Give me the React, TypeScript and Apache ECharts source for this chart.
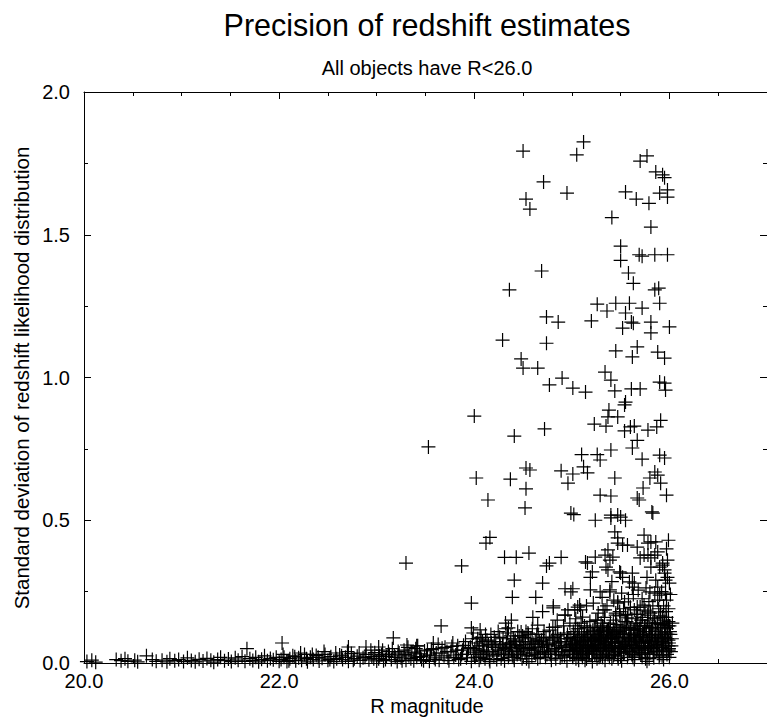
import React, { useEffect, useRef } from "react";
import * as echarts from "echarts";

const FONT = "'Liberation Sans', Arial, Helvetica, sans-serif";

const TITLE = "Precision of redshift estimates";
const SUBTITLE = "All objects have R<26.0";
const X_NAME = "R magnitude";
const Y_NAME = "Standard deviation of redshift likelihood distribution";

const X_MAJOR_TICKS = [20, 22, 24, 26];
const Y_MAJOR_TICKS = [0, 0.5, 1.0, 1.5, 2.0];

// scattered points with large deviation (y > 0.5)
const sparseHigh: number[][] = [
  [23.53, 0.757], [24.5, 1.793], [25.12, 1.825], [25.05, 1.78], [25.77, 1.776], [25.7, 1.758],
  [25.86, 1.72], [25.93, 1.71], [25.95, 1.7], [25.98, 1.657], [25.9, 1.646], [25.98, 1.632],
  [24.71, 1.685], [24.95, 1.646], [24.53, 1.625], [24.57, 1.59], [25.55, 1.65], [25.66, 1.625],
  [25.79, 1.61], [25.41, 1.56], [25.81, 1.527], [25.5, 1.46], [25.5, 1.41], [25.69, 1.43],
  [25.72, 1.425], [25.85, 1.43], [25.98, 1.43], [24.69, 1.373], [24.36, 1.307], [25.58, 1.366],
  [25.63, 1.33], [25.85, 1.307], [25.89, 1.313], [25.26, 1.257], [25.36, 1.233], [25.45, 1.26],
  [25.59, 1.26], [25.55, 1.226], [25.72, 1.243], [25.9, 1.26], [24.74, 1.212], [24.86, 1.194],
  [25.2, 1.198], [25.61, 1.194], [25.81, 1.194], [26.0, 1.177], [25.52, 1.173], [25.63, 1.19],
  [25.81, 1.156], [24.29, 1.131], [24.74, 1.12], [25.45, 1.093], [25.67, 1.107], [25.62, 1.072],
  [25.88, 1.089], [25.95, 1.068], [24.48, 1.065], [24.5, 1.033], [24.65, 1.033], [25.34, 1.019],
  [25.4, 0.991], [24.9, 0.998], [24.77, 0.974], [25.01, 0.963], [25.14, 0.949], [25.44, 0.953],
  [25.61, 0.96], [25.7, 0.96], [25.9, 0.984], [25.95, 0.98], [25.96, 0.956], [24.0, 0.865],
  [25.54, 0.904], [25.55, 0.914], [25.38, 0.886], [25.47, 0.862], [25.37, 0.862], [25.23, 0.837],
  [25.35, 0.83], [24.72, 0.82], [24.41, 0.795], [25.6, 0.827], [25.64, 0.83], [25.54, 0.813],
  [25.78, 0.816], [25.87, 0.827], [25.91, 0.85], [25.67, 0.78], [25.62, 0.753], [25.4, 0.746],
  [25.1, 0.73], [25.26, 0.73], [25.29, 0.711], [25.72, 0.714], [25.9, 0.728], [25.95, 0.718],
  [25.12, 0.687], [25.16, 0.666], [24.53, 0.683], [24.57, 0.676], [24.89, 0.673], [25.01, 0.662],
  [24.96, 0.63], [24.02, 0.648], [24.37, 0.644], [24.53, 0.61], [25.44, 0.648], [25.85, 0.669],
  [25.88, 0.658], [25.8, 0.648], [25.91, 0.63], [25.73, 0.613], [24.14, 0.571], [24.52, 0.543],
  [25.29, 0.588], [25.4, 0.585], [25.67, 0.578], [25.69, 0.571], [25.97, 0.588], [25.82, 0.529],
  [24.99, 0.525], [25.02, 0.52], [25.4, 0.518], [25.5, 0.511],
];

// intermediate points (0.05 < y < 0.5)
const sparseMid: number[][] = [
  [23.3, 0.35], [23.87, 0.34], [23.97, 0.21], [23.66, 0.13], [23.17, 0.088], [24.12, 0.42],
  [24.16, 0.44], [24.31, 0.37], [24.43, 0.37], [24.56, 0.385], [24.41, 0.29], [24.39, 0.23],
  [24.63, 0.23], [24.7, 0.28], [24.74, 0.34], [24.77, 0.35], [24.89, 0.37], [24.93, 0.26],
  [25.01, 0.26], [24.81, 0.2], [23.97, 0.123], [24.06, 0.116], [23.99, 0.105], [24.32, 0.14],
  [24.38, 0.15], [24.35, 0.123], [24.48, 0.109], [24.55, 0.105], [24.65, 0.133], [24.83, 0.126],
  [24.93, 0.168], [25.03, 0.186], [25.08, 0.203], [25.11, 0.161], [25.19, 0.256], [25.34, 0.186],
  [25.39, 0.256], [25.47, 0.21], [25.45, 0.175], [25.55, 0.168], [25.64, 0.186], [25.7, 0.196],
  [25.78, 0.168], [25.88, 0.22], [25.93, 0.161], [25.95, 0.133], [25.14, 0.354], [25.21, 0.319],
  [25.19, 0.3], [25.37, 0.396], [25.42, 0.371], [25.35, 0.336], [25.5, 0.315], [25.59, 0.284],
  [25.62, 0.266], [25.76, 0.263], [25.8, 0.249], [25.85, 0.245], [25.9, 0.238], [25.95, 0.315],
  [25.96, 0.29], [25.93, 0.343], [25.9, 0.336], [25.81, 0.336], [25.7, 0.368], [25.78, 0.378],
  [25.85, 0.378], [25.44, 0.459], [25.47, 0.438], [25.52, 0.413], [25.74, 0.448], [25.81, 0.424],
  [25.86, 0.424], [25.88, 0.389], [25.24, 0.5], [25.4, 0.508], [25.47, 0.518], [25.55, 0.5],
  [25.83, 0.525], [25.32, 0.126], [25.39, 0.105], [25.44, 0.116], [25.29, 0.091], [25.64, 0.116],
  [25.7, 0.14], [25.8, 0.123], [25.88, 0.14], [25.95, 0.105], [23.31, 0.063], [23.41, 0.06],
  [23.58, 0.07], [22.71, 0.056], [22.89, 0.056], [23.02, 0.056], [22.03, 0.07], [21.67, 0.05],
  [20.64, 0.025], [25.16, 0.35], [25.24, 0.371], [25.39, 0.36], [25.37, 0.326], [25.34, 0.378],
  [25.49, 0.319], [25.52, 0.3], [25.62, 0.315], [25.64, 0.28], [25.47, 0.42], [25.57, 0.413],
  [25.67, 0.406], [25.78, 0.42], [25.74, 0.378], [25.81, 0.368], [25.93, 0.35], [25.95, 0.326],
  [25.98, 0.3], [26.0, 0.28], [25.96, 0.245], [24.99, 0.249], [25.29, 0.249], [25.39, 0.249],
  [25.88, 0.266], [24.81, 0.193], [24.96, 0.186], [25.06, 0.196], [25.09, 0.186], [24.93, 0.168],
  [25.32, 0.186], [25.47, 0.214], [25.54, 0.214], [25.45, 0.168], [25.57, 0.158], [25.67, 0.196],
  [25.74, 0.203], [25.78, 0.179], [25.85, 0.158], [25.91, 0.179], [25.95, 0.14],
];

const midDense: number[][] = [
  [25.22, 0.21], [25.27, 0.175], [25.31, 0.23], [25.36, 0.2], [25.41, 0.285], [25.43, 0.22],
  [25.49, 0.18], [25.51, 0.245], [25.53, 0.19], [25.58, 0.225], [25.6, 0.195], [25.63, 0.24],
  [25.66, 0.17], [25.68, 0.255], [25.72, 0.225], [25.75, 0.185], [25.77, 0.3], [25.79, 0.215],
  [25.83, 0.2], [25.86, 0.29], [25.89, 0.19], [25.92, 0.25], [25.94, 0.2], [25.97, 0.22],
  [25.99, 0.19], [26.01, 0.24], [25.98, 0.36], [25.97, 0.4], [25.99, 0.43], [24.6, 0.16],
  [24.7, 0.18], [24.85, 0.15], [24.98, 0.14], [25.04, 0.155], [25.15, 0.2], [25.26, 0.15],
];

// dense band, bright objects
const band20to22: number[][] = [
  [20.03, 0.005], [20.08, 0.01], [20.12, 0.003], [20.33, 0.012], [20.38, 0.008], [20.42, 0.015],
  [20.45, 0.006], [20.52, 0.01], [20.55, 0.004], [20.7, 0.012], [20.74, 0.006], [20.8, 0.01],
  [20.85, 0.004], [20.88, 0.015], [20.93, 0.008], [20.97, 0.012], [21.02, 0.005], [21.06, 0.018],
  [21.1, 0.009], [21.14, 0.004], [21.18, 0.013], [21.22, 0.007], [21.26, 0.016], [21.3, 0.01],
  [21.33, 0.003], [21.37, 0.012], [21.4, 0.02], [21.44, 0.008], [21.48, 0.014], [21.51, 0.005],
  [21.55, 0.018], [21.58, 0.01], [21.62, 0.022], [21.65, 0.006], [21.7, 0.015], [21.73, 0.009],
  [21.76, 0.02], [21.79, 0.004], [21.82, 0.013], [21.85, 0.025], [21.88, 0.008], [21.91, 0.016],
  [21.94, 0.011], [21.97, 0.02], [22.0, 0.006],
];

const band22to24: number[][] = [
  [22.02, 0.012], [22.05, 0.02], [22.08, 0.005], [22.11, 0.015], [22.14, 0.025], [22.17, 0.008],
  [22.2, 0.018], [22.23, 0.01], [22.26, 0.03], [22.29, 0.004], [22.32, 0.02], [22.35, 0.012],
  [22.38, 0.026], [22.41, 0.007], [22.44, 0.017], [22.47, 0.03], [22.5, 0.01], [22.53, 0.022],
  [22.56, 0.005], [22.59, 0.015], [22.62, 0.028], [22.65, 0.012], [22.68, 0.02], [22.71, 0.006],
  [22.74, 0.033], [22.77, 0.015], [22.8, 0.024], [22.83, 0.009], [22.86, 0.018], [22.89, 0.03],
  [22.92, 0.011], [22.95, 0.022], [22.98, 0.036], [23.0, 0.007], [23.02, 0.015], [23.05, 0.03],
  [23.07, 0.008], [23.1, 0.022], [23.12, 0.04], [23.15, 0.012], [23.18, 0.028], [23.21, 0.005],
  [23.23, 0.035], [23.25, 0.018], [23.28, 0.045], [23.3, 0.01], [23.33, 0.025], [23.36, 0.038],
  [23.38, 0.008], [23.4, 0.05], [23.41, 0.02], [23.44, 0.032], [23.46, 0.012], [23.49, 0.042],
  [23.51, 0.025], [23.54, 0.006], [23.56, 0.048], [23.59, 0.018], [23.61, 0.035], [23.64, 0.01],
  [23.67, 0.052], [23.69, 0.025], [23.72, 0.04], [23.74, 0.008], [23.77, 0.058], [23.79, 0.02],
  [23.82, 0.045], [23.84, 0.012], [23.87, 0.03], [23.89, 0.062], [23.92, 0.018], [23.94, 0.05],
  [23.97, 0.006], [23.99, 0.038],
];

const band22b: number[][] = [
  [22.04, 0.03], [22.1, 0.008], [22.16, 0.022], [22.22, 0.035], [22.28, 0.015], [22.34, 0.03],
  [22.4, 0.02], [22.46, 0.04], [22.52, 0.012], [22.58, 0.035], [22.64, 0.025], [22.7, 0.04],
  [22.76, 0.01], [22.82, 0.035], [22.88, 0.02], [22.94, 0.045], [22.97, 0.015],
];

const band23b: number[][] = [
  [23.03, 0.025], [23.06, 0.045], [23.09, 0.012], [23.13, 0.03], [23.16, 0.05], [23.19, 0.02],
  [23.22, 0.04], [23.26, 0.008], [23.29, 0.03], [23.32, 0.055], [23.35, 0.015], [23.39, 0.035],
  [23.42, 0.06], [23.45, 0.022], [23.48, 0.008], [23.52, 0.045], [23.55, 0.028], [23.58, 0.05],
  [23.6, 0.012], [23.63, 0.065], [23.66, 0.035], [23.7, 0.055], [23.73, 0.018], [23.76, 0.04],
  [23.78, 0.07], [23.81, 0.028], [23.83, 0.06], [23.86, 0.015], [23.88, 0.045], [23.91, 0.075],
  [23.93, 0.03], [23.96, 0.055], [23.98, 0.085],
];

const band24to25: number[][] = [
  [24.01, 0.02], [24.02, 0.07], [24.04, 0.045], [24.05, 0.01], [24.07, 0.09], [24.08, 0.03],
  [24.1, 0.06], [24.11, 0.015], [24.13, 0.08], [24.14, 0.04], [24.16, 0.005], [24.17, 0.1],
  [24.19, 0.055], [24.2, 0.025], [24.22, 0.075], [24.23, 0.012], [24.25, 0.045], [24.26, 0.09],
  [24.28, 0.03], [24.29, 0.065], [24.31, 0.008], [24.32, 0.05], [24.34, 0.105], [24.35, 0.02],
  [24.37, 0.07], [24.38, 0.04], [24.4, 0.085], [24.41, 0.01], [24.43, 0.06], [24.44, 0.03],
  [24.46, 0.095], [24.47, 0.05], [24.49, 0.015], [24.5, 0.075], [24.52, 0.035], [24.53, 0.11],
  [24.55, 0.055], [24.56, 0.005], [24.58, 0.085], [24.59, 0.025], [24.61, 0.065], [24.62, 0.045],
  [24.64, 0.1], [24.65, 0.015], [24.67, 0.075], [24.68, 0.035], [24.7, 0.055], [24.71, 0.09],
  [24.73, 0.02], [24.74, 0.065], [24.76, 0.04], [24.77, 0.115], [24.79, 0.01], [24.8, 0.08],
  [24.82, 0.05], [24.83, 0.03], [24.85, 0.095], [24.86, 0.06], [24.88, 0.018], [24.89, 0.075],
  [24.91, 0.04], [24.92, 0.105], [24.94, 0.055], [24.95, 0.008], [24.97, 0.085], [24.98, 0.03],
  [25.0, 0.065],
];

const band24b: number[][] = [
  [24.005, 0.05], [24.025, 0.03], [24.035, 0.085], [24.055, 0.06], [24.065, 0.02], [24.085, 0.075],
  [24.095, 0.045], [24.115, 0.1], [24.125, 0.035], [24.145, 0.065], [24.155, 0.012], [24.175, 0.07],
  [24.185, 0.04], [24.205, 0.09], [24.215, 0.055], [24.235, 0.03], [24.245, 0.11], [24.265, 0.06],
  [24.275, 0.015], [24.295, 0.085], [24.305, 0.045], [24.325, 0.12], [24.345, 0.065], [24.355, 0.03],
  [24.375, 0.095], [24.385, 0.055], [24.405, 0.02], [24.415, 0.075], [24.435, 0.045], [24.445, 0.11],
  [24.465, 0.065], [24.475, 0.03], [24.495, 0.095], [24.505, 0.05], [24.525, 0.075], [24.535, 0.015],
  [24.555, 0.1], [24.565, 0.045], [24.585, 0.065], [24.595, 0.12], [24.615, 0.035], [24.625, 0.08],
  [24.645, 0.055], [24.655, 0.1], [24.675, 0.02], [24.685, 0.07], [24.705, 0.04], [24.715, 0.11],
  [24.735, 0.085], [24.745, 0.03], [24.765, 0.065], [24.775, 0.09], [24.795, 0.045], [24.805, 0.125],
  [24.825, 0.07], [24.835, 0.015], [24.855, 0.1], [24.865, 0.04], [24.885, 0.085], [24.895, 0.055],
  [24.915, 0.13], [24.925, 0.025], [24.945, 0.075], [24.955, 0.1], [24.975, 0.045], [24.985, 0.065],
];

const band25to26: number[][] = [
  [25.01, 0.02], [25.02, 0.1], [25.03, 0.055], [25.04, 0.08], [25.05, 0.035], [25.06, 0.12],
  [25.07, 0.01], [25.08, 0.065], [25.09, 0.045], [25.1, 0.095], [25.11, 0.025], [25.12, 0.075],
  [25.13, 0.13], [25.14, 0.05], [25.15, 0.015], [25.16, 0.09], [25.17, 0.06], [25.18, 0.035],
  [25.19, 0.11], [25.2, 0.075], [25.21, 0.005], [25.22, 0.045], [25.23, 0.125], [25.24, 0.085],
  [25.25, 0.03], [25.26, 0.065], [25.27, 0.1], [25.28, 0.02], [25.29, 0.05], [25.3, 0.14],
  [25.31, 0.08], [25.32, 0.04], [25.33, 0.11], [25.34, 0.01], [25.35, 0.07], [25.36, 0.095],
  [25.37, 0.03], [25.38, 0.055], [25.39, 0.125], [25.4, 0.085], [25.41, 0.015], [25.42, 0.06],
  [25.43, 0.105], [25.44, 0.04], [25.45, 0.075], [25.46, 0.135], [25.47, 0.025], [25.48, 0.09],
  [25.49, 0.05], [25.5, 0.115], [25.51, 0.008], [25.52, 0.07], [25.53, 0.035], [25.54, 0.1],
  [25.55, 0.06], [25.56, 0.145], [25.57, 0.02], [25.58, 0.085], [25.59, 0.045], [25.6, 0.12],
  [25.61, 0.065], [25.62, 0.03], [25.63, 0.095], [25.64, 0.012], [25.65, 0.075], [25.66, 0.13],
  [25.67, 0.05], [25.68, 0.105], [25.69, 0.038], [25.7, 0.08], [25.71, 0.15], [25.72, 0.02],
  [25.73, 0.06], [25.74, 0.11], [25.75, 0.045], [25.76, 0.09], [25.77, 0.006], [25.78, 0.07],
  [25.79, 0.125], [25.8, 0.035], [25.81, 0.1], [25.82, 0.055], [25.83, 0.14], [25.84, 0.018],
  [25.85, 0.08], [25.86, 0.115], [25.87, 0.045], [25.88, 0.065], [25.89, 0.095], [25.9, 0.028],
  [25.91, 0.135], [25.92, 0.055], [25.93, 0.085], [25.94, 0.012], [25.95, 0.11], [25.96, 0.07],
  [25.97, 0.04], [25.98, 0.1], [25.99, 0.06], [26.0, 0.02], [26.0, 0.13], [25.99, 0.145],
  [25.97, 0.16], [25.99, 0.08],
];

const band25b: number[][] = [
  [25.005, 0.07], [25.015, 0.11], [25.025, 0.03], [25.035, 0.13], [25.045, 0.06], [25.055, 0.09],
  [25.065, 0.02], [25.075, 0.12], [25.085, 0.05], [25.095, 0.14], [25.105, 0.075], [25.115, 0.035],
  [25.125, 0.105], [25.135, 0.01], [25.145, 0.085], [25.155, 0.125], [25.165, 0.045], [25.175, 0.065],
  [25.185, 0.145], [25.195, 0.09], [25.205, 0.03], [25.215, 0.115], [25.225, 0.06], [25.235, 0.08],
  [25.245, 0.15], [25.255, 0.04], [25.265, 0.12], [25.275, 0.07], [25.285, 0.1], [25.295, 0.025],
  [25.305, 0.09], [25.315, 0.13], [25.325, 0.055], [25.335, 0.16], [25.345, 0.075], [25.355, 0.04],
  [25.365, 0.115], [25.375, 0.085], [25.385, 0.02], [25.395, 0.14], [25.405, 0.06], [25.415, 0.1],
  [25.425, 0.15], [25.435, 0.07], [25.445, 0.045], [25.455, 0.125], [25.465, 0.09], [25.475, 0.015],
  [25.485, 0.11], [25.495, 0.165], [25.505, 0.055], [25.515, 0.13], [25.525, 0.08], [25.535, 0.035],
  [25.545, 0.145], [25.555, 0.1], [25.565, 0.065], [25.575, 0.17], [25.585, 0.125], [25.595, 0.04],
  [25.605, 0.09], [25.615, 0.155], [25.625, 0.06], [25.635, 0.115], [25.645, 0.025], [25.655, 0.14],
  [25.665, 0.08], [25.675, 0.17], [25.685, 0.05], [25.695, 0.12], [25.705, 0.1], [25.715, 0.035],
  [25.725, 0.16], [25.735, 0.075], [25.745, 0.13], [25.755, 0.015], [25.765, 0.11], [25.775, 0.15],
  [25.785, 0.055], [25.795, 0.095], [25.805, 0.175], [25.815, 0.07], [25.825, 0.125], [25.835, 0.03],
  [25.845, 0.155], [25.855, 0.09], [25.865, 0.06], [25.875, 0.14], [25.885, 0.11], [25.895, 0.02],
  [25.905, 0.165], [25.915, 0.075], [25.925, 0.12], [25.935, 0.045], [25.945, 0.15], [25.955, 0.09],
  [25.965, 0.18], [25.975, 0.03], [25.985, 0.13], [25.995, 0.07], [26.005, 0.11], [26.015, 0.04],
  [26.025, 0.085], [26.03, 0.14],
];

const band25c: number[][] = [
  [25.008, 0.045], [25.025, 0.085], [25.042, 0.015], [25.058, 0.1], [25.075, 0.055], [25.092, 0.07],
  [25.108, 0.02], [25.125, 0.09], [25.142, 0.06], [25.158, 0.11], [25.175, 0.03], [25.192, 0.08],
  [25.208, 0.05], [25.225, 0.1], [25.242, 0.065], [25.258, 0.015], [25.275, 0.085], [25.292, 0.115],
  [25.308, 0.045], [25.325, 0.09], [25.342, 0.03], [25.358, 0.075], [25.375, 0.12], [25.392, 0.05],
  [25.408, 0.095], [25.425, 0.025], [25.442, 0.07], [25.458, 0.11], [25.475, 0.055], [25.492, 0.085],
  [25.508, 0.035], [25.525, 0.105], [25.542, 0.06], [25.558, 0.125], [25.575, 0.04], [25.592, 0.075],
  [25.608, 0.1], [25.625, 0.02], [25.642, 0.085], [25.658, 0.055], [25.675, 0.12], [25.692, 0.07],
  [25.708, 0.03], [25.725, 0.095], [25.742, 0.05], [25.758, 0.13], [25.775, 0.08], [25.792, 0.015],
  [25.808, 0.06], [25.825, 0.1], [25.842, 0.04], [25.858, 0.125], [25.875, 0.055], [25.892, 0.085],
  [25.908, 0.11], [25.925, 0.025], [25.942, 0.07], [25.958, 0.1], [25.975, 0.12], [25.992, 0.045],
];

const bandExtra: number[][] = [
  [24.3, 0.035], [24.33, 0.07], [24.36, 0.055], [24.39, 0.025], [24.42, 0.08], [24.45, 0.04],
  [24.48, 0.06], [24.51, 0.09], [24.54, 0.025], [24.57, 0.05], [24.6, 0.07], [24.63, 0.03],
  [24.66, 0.055], [24.69, 0.08], [24.72, 0.04], [24.75, 0.06], [24.78, 0.03], [24.81, 0.09],
  [24.84, 0.05], [24.87, 0.07], [24.9, 0.025], [24.93, 0.06], [24.96, 0.045], [24.99, 0.09],
  [25.015, 0.04], [25.035, 0.07], [25.055, 0.05], [25.075, 0.09], [25.095, 0.03], [25.115, 0.06],
  [25.135, 0.08], [25.155, 0.04], [25.175, 0.1], [25.195, 0.055], [25.215, 0.075], [25.235, 0.03],
  [25.255, 0.095], [25.275, 0.06], [25.295, 0.08], [25.315, 0.02], [25.335, 0.065], [25.355, 0.11],
  [25.375, 0.045], [25.395, 0.085], [25.415, 0.06], [25.435, 0.03], [25.455, 0.1], [25.475, 0.07],
  [25.495, 0.04], [25.515, 0.09], [25.535, 0.12], [25.555, 0.05], [25.575, 0.075], [25.595, 0.1],
  [25.615, 0.03], [25.635, 0.06], [25.655, 0.09], [25.675, 0.115], [25.695, 0.045], [25.715, 0.07],
  [25.735, 0.1], [25.755, 0.06], [25.775, 0.035], [25.795, 0.085], [25.815, 0.12], [25.835, 0.05],
  [25.855, 0.1], [25.875, 0.075], [25.895, 0.04], [25.915, 0.09], [25.935, 0.06], [25.955, 0.125],
  [25.975, 0.085], [25.995, 0.05], [26.01, 0.1], [26.02, 0.06],
];

const allPoints = [
  ...band20to22, ...band22to24, ...band22b, ...band23b, ...band24to25, ...band24b, ...band25to26,
  ...band25b, ...band25c, ...bandExtra, ...midDense, ...sparseMid, ...sparseHigh,
];

const CROSS = "path://M0 7H14M7 0V14";
const TICK_FONT = 20;

function makeX(position: string, interval: number, tickLen: number, labels: boolean, line: boolean) {
  return {
    type: "value",
    min: 20,
    max: 27,
    interval,
    position,
    axisLine: { show: line, onZero: false, lineStyle: { color: "#000", width: 1 } },
    axisTick: { show: true, inside: true, length: tickLen, lineStyle: { color: "#000", width: 1 } },
    axisLabel: {
      show: labels,
      color: "#000",
      fontSize: TICK_FONT,
      fontFamily: FONT,
      margin: 8,
      showMaxLabel: false,
      formatter: (v: number) => (X_MAJOR_TICKS.includes(v) ? v.toFixed(1) : ""),
    },
    splitLine: { show: false },
  };
}

function makeY(position: string, interval: number, tickLen: number, labels: boolean, line: boolean) {
  return {
    type: "value",
    min: 0,
    max: 2,
    interval,
    position,
    axisLine: { show: line, onZero: false, lineStyle: { color: "#000", width: 1 } },
    axisTick: { show: true, inside: true, length: tickLen, lineStyle: { color: "#000", width: 1 } },
    axisLabel: {
      show: labels,
      color: "#000",
      fontSize: TICK_FONT,
      fontFamily: FONT,
      margin: 14,
      formatter: (v: number) => (Y_MAJOR_TICKS.includes(v) ? v.toFixed(1) : ""),
    },
    splitLine: { show: false },
  };
}

export default function App() {
  const ref = useRef<HTMLDivElement>(null);
  useEffect(() => {
    if (!ref.current) return;
    const chart = echarts.init(ref.current, undefined, { renderer: "svg" });
    chart.setOption({
      animation: false,
      backgroundColor: "#fff",
      textStyle: { fontFamily: FONT },
      grid: { left: 84, right: -3, top: 92, bottom: 63, containLabel: false },
      xAxis: [
        makeX("bottom", 2, 7, true, true),
        makeX("bottom", 0.5, 4, false, false),
        makeX("top", 2, 7, false, true),
        makeX("top", 0.5, 4, false, false),
      ],
      yAxis: [
        makeY("left", 0.5, 7, true, true),
        makeY("left", 0.25, 4, false, false),
        makeY("right", 0.5, 7, false, true),
        makeY("right", 0.25, 4, false, false),
      ],
      graphic: [
        {
          type: "text",
          x: 427,
          y: 25,
          style: { text: TITLE, fontSize: 30.5, fontFamily: FONT, fill: "#000", textAlign: "center", textVerticalAlign: "middle" },
        },
        {
          type: "text",
          x: 427,
          y: 68,
          style: { text: SUBTITLE, fontSize: 20, fontFamily: FONT, fill: "#000", textAlign: "center", textVerticalAlign: "middle" },
        },
        {
          type: "text",
          x: 427,
          y: 706,
          style: { text: X_NAME, fontSize: 20, fontFamily: FONT, fill: "#000", textAlign: "center", textVerticalAlign: "middle" },
        },
        {
          type: "text",
          x: 21,
          y: 378,
          rotation: Math.PI / 2,
          style: { text: Y_NAME, fontSize: 20.5, fontFamily: FONT, fill: "#000", textAlign: "center", textVerticalAlign: "middle" },
        },
      ],
      series: [
        {
          type: "scatter",
          xAxisIndex: 0,
          yAxisIndex: 0,
          data: allPoints,
          symbol: CROSS,
          symbolSize: 14,
          itemStyle: { color: "rgba(0,0,0,0)", borderColor: "#000", borderWidth: 1.2, opacity: 1 },
          emphasis: { disabled: true },
          silent: true,
          large: false,
          clip: false,
        },
      ],
    });
    return () => chart.dispose();
  }, []);
  return (
    <div
      ref={ref}
      style={{ position: "fixed", left: 0, top: 0, width: 767, height: 726, background: "#fff" }}
    />
  );
}
